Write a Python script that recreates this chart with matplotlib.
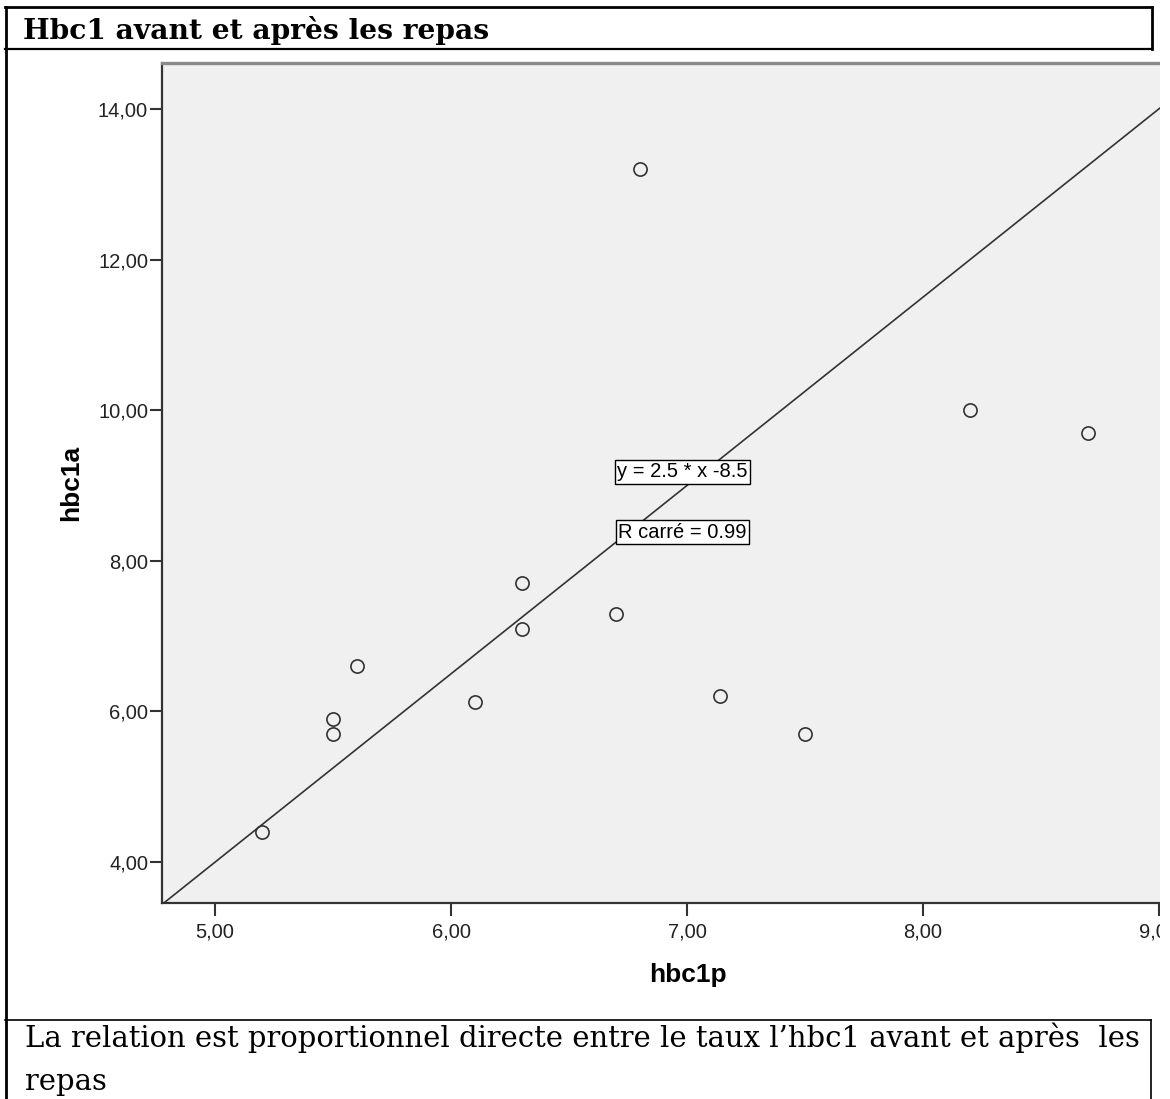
import matplotlib
matplotlib.use("Agg")
import matplotlib.pyplot as plt
from matplotlib.lines import Line2D
from matplotlib.patches import Rectangle

# valeurs
hbc1p = [5.2, 5.5, 5.5, 5.6, 6.1, 6.3, 6.3, 6.7, 6.8, 7.14, 7.5, 8.2, 8.7]
hbc1a = [4.4, 5.9, 5.7, 6.6, 6.13, 7.7, 7.1, 7.3, 13.2, 6.2, 5.7, 10.0, 9.7]

# droite d'ajustement
pente = 2.5
origine = -8.5
eq_label = "y = 2.5 * x -8.5"
r2_label = "R carré = 0.99"

xticks = [5, 6, 7, 8, 9]
yticks = [4, 6, 8, 10, 12, 14]

titre = "Hbc1 avant et après les repas"
legende = ["La relation est proportionnel directe entre le taux l\u2019hbc1 avant et après  les",
           "repas"]

W, H = 1170, 1099
fig = plt.figure(figsize=(W / 100, H / 100), dpi=100)
fig.patch.set_facecolor("white")


def px(x, y):
    # pixels (origine en haut a gauche) -> fraction de figure
    return x / W, 1 - y / H


def trait(x0, y0, x1, y1, lw=1.0, color="black"):
    (a, b), (c, d) = px(x0, y0), px(x1, y1)
    fig.add_artist(Line2D([a, c], [b, d], color=color, lw=lw, zorder=5))


# zone du graphique
l, b = px(162, 903)
r, t = px(1160, 63)
ax = fig.add_axes([l, b, r - l, t - b])
ax.set_facecolor("#f0f0f0")
ax.set_xlim(4.775, 9.005)
ax.set_ylim(3.457, 14.61)

xs = [4.775, 9.005]
ax.plot(xs, [pente * v + origine for v in xs], color="#333333", lw=1.2, zorder=2)
ax.plot(hbc1p, hbc1a, linestyle="none", marker="o", markersize=9.5,
        markerfacecolor="none", markeredgecolor="#333333", markeredgewidth=1.2, zorder=3)

sans = "Liberation Sans"
ax.set_xticks(xticks)
ax.set_yticks(yticks)
ax.set_xticklabels([f"{v:.2f}".replace(".", ",") for v in xticks], family=sans, fontsize=14.5, color="#222222")
ax.set_yticklabels([f"{v:.2f}".replace(".", ",") for v in yticks], family=sans, fontsize=14.5, color="#222222")
ax.tick_params(axis="y", length=9, width=1.5, color="#333333", pad=1)
ax.tick_params(axis="x", length=9, width=1.5, color="#333333", pad=5)

for s in ["left", "bottom"]:
    ax.spines[s].set_color("#333333")
    ax.spines[s].set_linewidth(1.6)
ax.spines["top"].set_color("#8a8a8a")
ax.spines["top"].set_linewidth(2.4)
ax.spines["right"].set_visible(False)

# axes d'origine plus larges que la capture : titres d'axes decales
ax.set_xlabel("hbc1p", family=sans, fontweight="bold", fontsize=19)
ax.set_ylabel("hbc1a", family=sans, fontweight="bold", fontsize=19)
ax.xaxis.set_label_coords((688 - 162) / 998, -(975 - 903) / 840, transform=ax.transAxes)
ax.yaxis.set_label_coords(-(162 - 71) / 998, 0.5, transform=ax.transAxes)
ax.xaxis.label.set_va("center")
ax.yaxis.label.set_va("center")

box = dict(boxstyle="square,pad=0.12", facecolor="white", edgecolor="black", lw=1.0)
ax.text(6.98, 9.18, eq_label, family=sans, fontsize=14.5, ha="center", va="center", bbox=box, zorder=4)
ax.text(6.98, 8.38, r2_label, family=sans, fontsize=14.5, ha="center", va="center", bbox=box, zorder=4)

# bord droit coupe comme dans le document
x0, _ = px(1160, 0)
fig.add_artist(Rectangle((x0, 0), 1 - x0, 1, transform=fig.transFigure,
                         facecolor="white", edgecolor="none", zorder=4))

# cadres du tableau
trait(5, 7, 1152, 7, lw=2.0)
trait(5, 49, 1152, 49, lw=1.6)
trait(1152, 7, 1152, 49, lw=2.0)
trait(6, 7, 6, 1099, lw=2.0)
trait(5, 1020, 1151, 1020, lw=1.2)
trait(1151, 1020, 1151, 1099, lw=1.2)

serif = "DejaVu Serif"
tx, ty = px(23, 39)
t_titre = fig.text(tx, ty, titre, family=serif, fontweight="bold", fontsize=20, va="baseline", zorder=6)
lx, ly = px(25, 1047)
t_l1 = fig.text(lx, ly, legende[0], family=serif, fontsize=17, va="baseline", zorder=6)
lx2, ly2 = px(25, 1090)
t_l2 = fig.text(lx2, ly2, legende[1], family=serif, fontsize=17, va="baseline", zorder=6)

# ajuste les tailles de police a la largeur du texte d'origine
fig.canvas.draw()
rend = fig.canvas.get_renderer()
w = t_titre.get_window_extent(rend).width
t_titre.set_fontsize(20 * 466 / w)
w = t_l1.get_window_extent(rend).width
fs = 17 * 1115 / w
t_l1.set_fontsize(fs)
t_l2.set_fontsize(fs)

fig.savefig("out.png", dpi=100)
